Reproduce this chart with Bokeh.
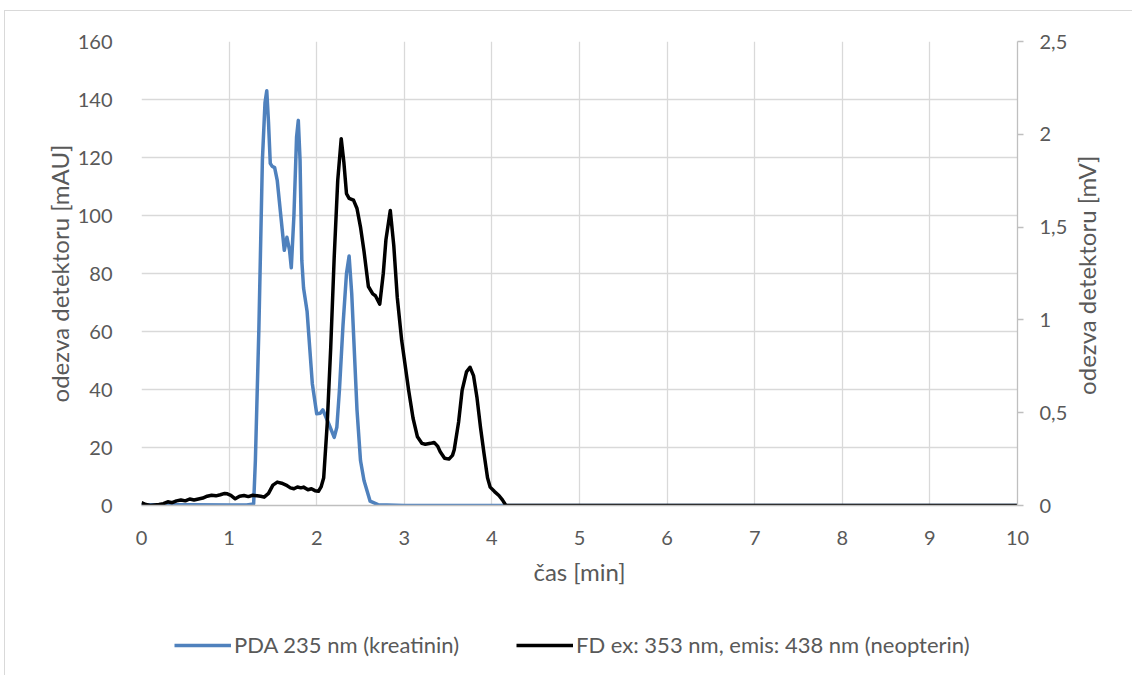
import math
from bokeh.plotting import figure
from bokeh.models import Range1d, LinearAxis, FixedTicker, Legend, LegendItem
from bokeh.layouts import column
from bokeh.embed import file_html
from bokeh.resources import INLINE

# ---- data ----
t_pda = [0, 0.5, 1.0, 1.2, 1.28, 1.30, 1.34, 1.38, 1.41, 1.43, 1.45, 1.47, 1.49, 1.52,
         1.55, 1.59, 1.63, 1.66, 1.69, 1.71, 1.74, 1.77, 1.79, 1.81, 1.83, 1.85, 1.89,
         1.95, 2.00, 2.04, 2.07, 2.14, 2.20, 2.23, 2.26, 2.30, 2.34, 2.37, 2.40, 2.46,
         2.50, 2.54, 2.61, 2.70, 3.0, 10]
pda = [0.3, 0.3, 0.2, 0.2, 0.5, 15.5, 61, 119, 139, 143, 132, 118, 117, 116.5,
       112, 100, 88, 92.5, 88, 82, 100, 127, 132.8, 119, 84.5, 75, 67,
       42, 31.6, 31.8, 33, 28, 23.5, 27, 40, 62, 80, 86, 73, 33,
       15.5, 8.6, 1.5, 0.3, 0, 0]

t_fd = [0, 0.05, 0.1, 0.2, 0.25, 0.3, 0.35, 0.4, 0.45, 0.5, 0.55, 0.6, 0.65, 0.7, 0.75,
        0.8, 0.85, 0.9, 0.95, 0.98, 1.02, 1.07, 1.12, 1.17, 1.22, 1.27, 1.32, 1.36,
        1.40, 1.45, 1.50, 1.55, 1.60, 1.65, 1.70, 1.74, 1.78, 1.82, 1.85, 1.90, 1.94,
        1.98, 2.02, 2.05, 2.08, 2.12, 2.16, 2.20, 2.24, 2.28, 2.31, 2.34, 2.37, 2.42,
        2.46, 2.50, 2.54, 2.59, 2.64, 2.67, 2.72, 2.76, 2.79, 2.84, 2.88, 2.92, 2.97,
        3.05, 3.10, 3.15, 3.20, 3.24, 3.30, 3.34, 3.38, 3.41, 3.46, 3.51, 3.55, 3.57,
        3.62, 3.66, 3.71, 3.75, 3.79, 3.83, 3.87, 3.91, 3.95, 3.98, 4.03, 4.08, 4.12,
        4.16, 10]
fd = [0.015, 0.005, 0.0, 0.005, 0.01, 0.02, 0.015, 0.025, 0.03, 0.025, 0.035, 0.03,
      0.035, 0.04, 0.05, 0.055, 0.052, 0.058, 0.065, 0.063, 0.055, 0.036, 0.05, 0.054,
      0.048, 0.055, 0.052, 0.05, 0.045, 0.065, 0.11, 0.126, 0.12, 0.11, 0.095, 0.09,
      0.1, 0.095, 0.099, 0.085, 0.09, 0.08, 0.077, 0.1, 0.15, 0.44, 0.85, 1.34, 1.75,
      1.976, 1.85, 1.68, 1.655, 1.645, 1.6, 1.5, 1.37, 1.18, 1.14, 1.13, 1.085, 1.25,
      1.43, 1.59, 1.4, 1.12, 0.89, 0.62, 0.47, 0.37, 0.335, 0.33, 0.335, 0.34, 0.32,
      0.29, 0.255, 0.25, 0.27, 0.30, 0.45, 0.62, 0.72, 0.745, 0.70, 0.58, 0.42, 0.28,
      0.15, 0.099, 0.075, 0.054, 0.03, 0.0, 0.0]

x_ticks = [0, 1, 2, 3, 4, 5, 6, 7, 8, 9, 10]
left_ticks = [0, 20, 40, 60, 80, 100, 120, 140, 160]
right_ticks = [0, 0.5, 1, 1.5, 2, 2.5]
right_labels = ["0", "0,5", "1", "1,5", "2", "2,5"]

label_pda = "PDA 235 nm (kreatinin)"
label_fd = "FD ex: 353 nm, emis: 438 nm (neopterin)"
x_title = "čas [min]"
left_title = "odezva detektoru [mAU]"
right_title = "odezva detektoru [mV]"

FONT = "Lato"
TXT = "#595959"
GRID = "#d9d9d9"
AX = "#bfbfbf"
BLUE = "#4f81bd"
BLACK = "#000000"

W = 1127
p = figure(width=W, height=584, output_backend="svg", toolbar_location=None,
           x_range=Range1d(0, 10), y_range=Range1d(0, 160),
           frame_width=876, frame_height=464,
           min_border_left=136, min_border_right=W - 136 - 876, min_border_top=30,
           min_border_bottom=90)
p.outline_line_color = None
p.extra_y_ranges = {"mv": Range1d(0, 2.5)}

# grid
p.xgrid.ticker = FixedTicker(ticks=x_ticks)
p.ygrid.ticker = FixedTicker(ticks=left_ticks)
for g in (p.xgrid[0], p.ygrid[0]):
    g.grid_line_color = GRID
    g.grid_line_width = 1.3

# axes
xa = p.xaxis[0]
xa.ticker = FixedTicker(ticks=x_ticks)
xa.axis_label = x_title
ya = p.yaxis[0]
ya.ticker = FixedTicker(ticks=left_ticks)
ya.axis_label = left_title

ra = LinearAxis(y_range_name="mv", ticker=FixedTicker(ticks=right_ticks),
                major_label_overrides={k: v for k, v in zip(right_ticks, right_labels)})
p.add_layout(ra, "right")

# title of the right axis (reads bottom-to-top, like Excel's); it starts at
# the frame's bottom, so non-breaking spaces lift it to the axis middle
rt = LinearAxis(y_range_name="mv", ticker=FixedTicker(ticks=[]),
                axis_label="\u00a0" * 18 + right_title,
                axis_label_orientation=math.pi / 2, axis_label_align="start")
p.add_layout(rt, "right")

for a in (xa, ya, ra, rt):
    a.major_label_text_font = FONT
    a.major_label_text_font_size = "20px"
    a.major_label_text_color = TXT
    a.axis_label_text_font = FONT
    a.axis_label_text_font_size = "24px"
    a.axis_label_text_font_style = "normal"
    a.axis_label_text_color = TXT
    a.minor_tick_line_color = None

xa.axis_line_color = AX
xa.axis_line_width = 1.3
xa.major_tick_line_color = None
xa.major_label_standoff = 19
xa.axis_label_standoff = 9

ya.axis_line_color = None
ya.major_tick_line_color = None
ya.major_label_standoff = 23
ya.axis_label_standoff = 1

ra.axis_line_color = AX
ra.axis_line_width = 1.3
ra.major_tick_line_color = AX
ra.major_tick_line_width = 1.3
ra.major_tick_out = 6
ra.major_tick_in = 0
ra.major_label_standoff = 16

rt.axis_line_color = None
rt.major_tick_line_color = None
rt.axis_label_standoff = 16

# series
p.line(t_pda, pda, line_color=BLUE, line_width=3.5, line_join="round")
p.line(t_fd, fd, y_range_name="mv", line_color=BLACK, line_width=3.5,
       line_join="round")

# legend strip below the chart (its frame is aligned with the chart's frame)
lg = figure(width=W, height=80, output_backend="svg", toolbar_location=None,
            x_range=Range1d(0, 1), y_range=Range1d(0, 1),
            x_axis_location=None, y_axis_location=None, min_border=0)
lg.outline_line_color = None
lg.grid.visible = False
k1 = lg.line([-10, -9], [-10, -10], line_color=BLUE, line_width=3.5)
k2 = lg.line([-10, -9], [-10, -10], line_color=BLACK, line_width=3.5)

for rend, lab, x0 in ((k1, label_pda, 39), (k2, label_fd, 381)):
    leg = Legend(items=[LegendItem(label=lab, renderers=[rend])],
                 location=(x0 - 6, 17), orientation="horizontal")
    leg.padding = 6
    leg.margin = 0
    leg.glyph_width = 57
    leg.label_standoff = 3
    leg.label_text_font = FONT
    leg.label_text_font_size = "22px"
    leg.label_text_color = TXT
    leg.border_line_color = None
    leg.background_fill_alpha = 0
    lg.add_layout(leg, "center")

layout = column(p, lg, spacing=0, margin=(10, 0, 0, 4),
                styles={"border-left": "1px solid #d9d9d9",
                        "border-top": "1px solid #d9d9d9"})

open("out.html", "w").write(file_html(layout, INLINE))
